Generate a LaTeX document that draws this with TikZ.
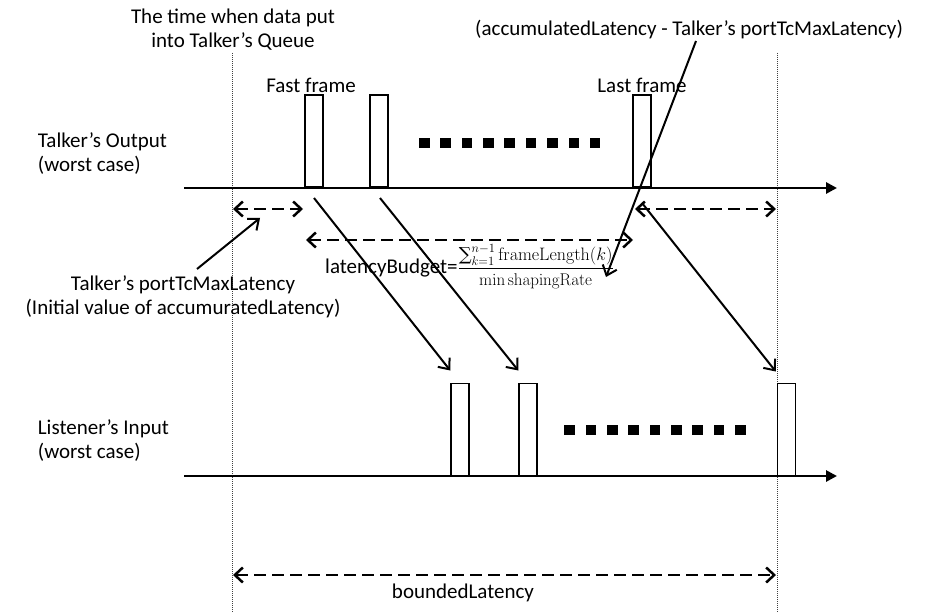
\RequirePackage{fix-cm}
\documentclass[tikz,border=0pt]{standalone}
\usepackage{amsmath}
\usepackage{exscale}
\usepackage[no-math]{fontspec}
\setmainfont{Carlito}
\newfontfamily\sumfont{DejaVu Serif}
\usetikzlibrary{arrows.meta,calc}
\begin{document}
\begin{tikzpicture}[x=1pt,y=-1pt,
  lbl/.style={font=\fontsize{21}{24}\selectfont, inner sep=0pt, anchor=base},
  lblw/.style={lbl, anchor=base west},
  axisline/.style={line width=2.8pt, -{Triangle[length=11pt,width=11pt]}},
  framebox/.style={draw, line width=1.5pt, minimum width=18pt, minimum height=92pt, inner sep=0pt, anchor=south},
  guide/.style={line width=0.8pt, dash pattern=on 1pt off 1pt, black!75},
  span/.style={line width=2.5pt, dash pattern=on 11.5pt off 6.5pt, {Straight Barb[length=8pt,width=15pt]}-{Straight Barb[length=8pt,width=15pt]}},
  flow/.style={line width=2pt, -{Straight Barb[length=9pt,width=15pt]}},
  sq/.style={fill=black, minimum size=10.5pt, inner sep=0pt}
]
\useasboundingbox (0,0) rectangle (936,612);

% guides
\coordinate (g1t) at (232.5,53); \coordinate (g1b) at (232.5,612);
\coordinate (g2t) at (777,53);   \coordinate (g2b) at (777,612);
\draw[guide] (g1t) -- (g1b);
\draw[guide] (g2t) -- (g2b);

% axes
\coordinate (ta0) at (184,188); \coordinate (ta1) at (837,188);
\coordinate (la0) at (184,476); \coordinate (la1) at (837,476);
\draw[axisline] (ta0) -- (ta1);
\draw[axisline] (la0) -- (la1);

% frames
\node[framebox] (t1) at (314,188) {};
\node[framebox] (t2) at (379,188) {};
\node[framebox] (t3) at (642,188) {};
\node[framebox] (l1) at (460,476) {};
\node[framebox] (l2) at (528,476) {};
\node[framebox] (l3) at (786.5,476) {};

% dots
\foreach \i in {0,...,8} {
  \node[sq] (ts\i) at ({424.3+21.35*\i},143) {};
  \node[sq] (ls\i) at ({569.6+21.35*\i},430) {};
}

% flow arrows
\coordinate (s1) at ($(t1.south)+(0,10)$);
\coordinate (s2) at ($(t2.south)+(1,10)$);
\coordinate (s3) at ($(t3.south)+(0,15)$);
\coordinate (e1) at ($(l1.north west)+(0,-12)$);
\coordinate (e2) at ($(l2.north west)+(0,-12)$);
\coordinate (e3) at ($(l3.north west)+(-1,-11)$);
\draw[flow] (s1) -- (e1);
\draw[flow] (s2) -- (e2);
\draw[flow] (s3) -- (e3);

% spans
\coordinate (a1l) at (233,209); \coordinate (a1r) at (303,209);
\coordinate (a2l) at (306,240); \coordinate (a2r) at (633,240);
\coordinate (a3l) at (635,209); \coordinate (a3r) at (776,209);
\coordinate (a4l) at (233,575); \coordinate (a4r) at (776,575);
\draw[span] (a1l) -- (a1r);
\draw[span] (a2l) -- (a2r);
\draw[span] (a3l) -- (a3r);
\draw[span] (a4l) -- (a4r);

% labels
\node[lbl] (q1) at (233,24) {The time when data put};
\node[lbl] (q2) at (233,48) {into Talker’s Queue};
\node[lbl] (ff) at (311,93) {Fast frame};
\node[lbl] (lf) at (642,93) {Last frame};
\node[lblw] (acc) at (475,36) {(accumulatedLatency - Talker’s portTcMaxLatency)};
\node[lblw] (to1) at (37.7,148) {Talker’s Output};
\node[lblw] (to2) at (37.7,172) {(worst case)};
\node[lblw] (li1) at (37.7,434) {Listener’s Input};
\node[lblw] (li2) at (37.7,458) {(worst case)};
\node[lbl] (pm1) at (183,290) {Talker’s portTcMaxLatency};
\node[lbl] (pm2) at (183,314) {(Initial value of accumuratedLatency)};
\node[lblw] (lb) at (325,273) {latencyBudget={\fontsize{18}{21}\selectfont$\dfrac{\mathop{\text{\sumfont ∑}}\nolimits_{k=1}^{n-1}\mathrm{frameLength}(k)}{\text{\usefont{OT1}{cmr}{m}{n}\fontsize{17}{19}\selectfont min\,shapingRate}}$}};
\node[lbl] (bl) at (463,598) {boundedLatency};

% annotation arrows
\coordinate (accp) at (696,41); \coordinate (accq) at (606,277);
\draw[flow] (accp) -- (accq);
\coordinate (pmp) at (197,269); \coordinate (pmq) at (260,218);
\draw[flow] (pmp) -- (pmq);
\end{tikzpicture}
\end{document}
